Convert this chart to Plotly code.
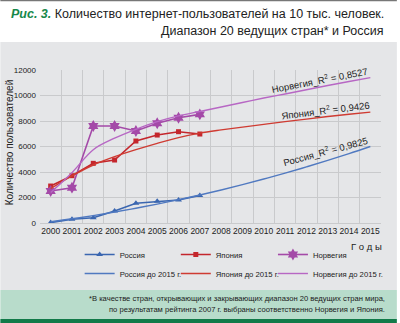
import plotly.graph_objects as go

# Годы наблюдений и прогноза
years = list(range(2000, 2008))
years_trend = list(range(2000, 2016))

# Пользователи интернета на 10 тыс. человек
russia = [30, 290, 415, 940, 1545, 1700, 1800, 2150]
japan = [2900, 3710, 4680, 4940, 6430, 6900, 7160, 6980]
norway = [2510, 2770, 7610, 7610, 7220, 7820, 8260, 8520]

# Линии тренда до 2015 г.
russia_trend = [100, 330, 580, 860, 1160, 1480, 1830, 2200, 2590, 3010,
                3450, 3910, 4400, 4910, 5440, 6000]
japan_trend = [2700, 3700, 4550, 5200, 5750, 6250, 6700, 7050, 7300, 7520,
               7740, 7950, 8150, 8350, 8530, 8700]
norway_trend = [2400, 3950, 5750, 6650, 7350, 7950, 8400, 8750, 9100, 9450,
                9800, 10120, 10450, 10780, 11100, 11400]

r2_labels = ["Россия_R<sup>2</sup> = 0,9825",
             "Япония_R<sup>2</sup> = 0,9426",
             "Норвегия_R<sup>2</sup> = 0,8527"]

FONT = "Liberation Sans, Arial, sans-serif"
BLUE, BLUE_T = "#3a66b0", "#5079c0"
RED, RED_T = "#c4262c", "#cf3b32"
PURP, PURP_T = "#a44aa8", "#b767c4"
PANEL = "#e5e6e8"
GRID = "#c9cacc"
INK = "#222"

W, H = 400, 323
L, R, T, B = 40, 16, 70, 100
PW, PH = W - L - R, H - T - B


def px(x):
    return (x - L) / PW


def py(y):
    return (H - B - y) / PH


fig = go.Figure()

# каждая страна — своя колонка легенды (факт + тренд)
fig.add_trace(go.Scatter(x=years, y=russia, name="Россия", mode="lines+markers",
                         legend="legend",
                         line=dict(color=BLUE, width=1.6),
                         marker=dict(symbol="triangle-up", size=6, color=BLUE)))
fig.add_trace(go.Scatter(x=years, y=japan, name="Япония", mode="lines+markers",
                         legend="legend2",
                         line=dict(color=RED, width=1.6),
                         marker=dict(symbol="square", size=5, color=RED)))
fig.add_trace(go.Scatter(x=years, y=norway, name="Норвегия", mode="lines+markers",
                         legend="legend3",
                         line=dict(color=PURP, width=1.6),
                         marker=dict(symbol="hexagram", size=9, color=PURP)))
fig.add_trace(go.Scatter(x=years_trend, y=russia_trend, name="Россия до 2015 г.",
                         mode="lines", legend="legend",
                         line=dict(color=BLUE_T, width=1.4, shape="spline")))
fig.add_trace(go.Scatter(x=years_trend, y=japan_trend, name="Япония до 2015 г.",
                         mode="lines", legend="legend2",
                         line=dict(color=RED_T, width=1.4, shape="spline")))
fig.add_trace(go.Scatter(x=years_trend, y=norway_trend, name="Норвегия до 2015 г.",
                         mode="lines", legend="legend3",
                         line=dict(color=PURP_T, width=1.4, shape="spline")))

shapes = [
    # серая подложка графика
    dict(type="rect", xref="paper", yref="paper", x0=px(0), x1=px(W),
         y0=py(290), y1=py(42), fillcolor=PANEL, line_width=0, layer="below"),
    # зелёная полоса примечания
    dict(type="rect", xref="paper", yref="paper", x0=px(0), x1=px(W),
         y0=py(319), y1=py(290), fillcolor="#b8dccb", line_width=0, layer="below"),
    dict(type="rect", xref="paper", yref="paper", x0=px(0), x1=px(W),
         y0=py(H), y1=py(319), fillcolor="#127a49", line_width=0, layer="below"),
    # верхняя линейка
    dict(type="line", xref="paper", yref="paper", x0=px(0), x1=px(W),
         y0=py(0.5), y1=py(0.5), line=dict(color="#777", width=1.5)),
]

annotations = [
    dict(xref="paper", yref="paper", x=px(389), y=py(14), xanchor="right", yanchor="middle",
         showarrow=False, font=dict(family=FONT, size=12.5, color=INK),
         text="<b><i><span style='color:#17884a'>Рис. 3.</span></i></b> "
              "Количество интернет-пользователей на 10 тыс. человек."),
    dict(xref="paper", yref="paper", x=px(389), y=py(31), xanchor="right", yanchor="middle",
         showarrow=False, font=dict(family=FONT, size=12.5, color=INK),
         text="Диапазон 20 ведущих стран* и Россия"),
    dict(xref="paper", yref="paper", x=px(9), y=py(142), xanchor="center", yanchor="middle",
         showarrow=False, textangle=-90, font=dict(family=FONT, size=10, color=INK),
         text="Количество пользователей"),
    dict(xref="paper", yref="paper", x=px(387), y=py(247), xanchor="right", yanchor="middle",
         showarrow=False, font=dict(family=FONT, size=9.5, color=INK),
         text="Г о д ы"),
    dict(xref="paper", yref="paper", x=px(390), y=py(298), xanchor="right", yanchor="middle",
         showarrow=False, font=dict(family=FONT, size=7.6, color="#1a1a1a"),
         text="*В качестве стран, открывающих и закрывающих диапазон 20 ведущих стран мира,"),
    dict(xref="paper", yref="paper", x=px(390), y=py(309), xanchor="right", yanchor="middle",
         showarrow=False, font=dict(family=FONT, size=7.6, color="#1a1a1a"),
         text="по результатам рейтинга 2007 г. выбраны соответственно Норвегия и Япония."),
]

# подписи R² вдоль линий тренда
for (lx, ly, ang), txt in zip([(2012.9, 5620, -15), (2012.9, 8900, -7), (2012.6, 11200, -11)],
                              r2_labels):
    annotations.append(dict(x=lx, y=ly, xref="x", yref="y", text=txt, showarrow=False,
                            textangle=ang, font=dict(family=FONT, size=9.5, color=INK)))

legend_common = dict(orientation="v", xanchor="left", y=py(240), yanchor="top",
                     bgcolor="rgba(0,0,0,0)", font=dict(family=FONT, size=7.7, color=INK),
                     tracegroupgap=0, itemwidth=30)

fig.update_layout(
    width=W, height=H,
    margin=dict(l=L, r=R, t=T, b=B),
    paper_bgcolor="white", plot_bgcolor=PANEL,
    font=dict(family=FONT, size=9, color=INK),
    shapes=shapes, annotations=annotations,
    showlegend=True,
    legend=dict(x=px(80), **legend_common),
    legend2=dict(x=px(177), **legend_common),
    legend3=dict(x=px(275), **legend_common),
    xaxis=dict(range=[1999.5, 2015.5], tickvals=years_trend, ticktext=[str(y) for y in years_trend],
               tickangle=0, showgrid=False, zeroline=False, ticks="", showline=True,
               linecolor=GRID, tickfont=dict(family=FONT, size=8.5, color=INK),
               minor=dict(tickvals=[y + 0.5 for y in range(1999, 2016)], showgrid=True,
                          gridcolor=GRID, gridwidth=1)),
    yaxis=dict(range=[0, 12000], dtick=2000, tickformat="d", showgrid=True, gridcolor=GRID,
               zeroline=False, ticks="", showline=False,
               tickfont=dict(family=FONT, size=8, color=INK), ticklabelstandoff=3),
)

fig.write_html("out.html")
